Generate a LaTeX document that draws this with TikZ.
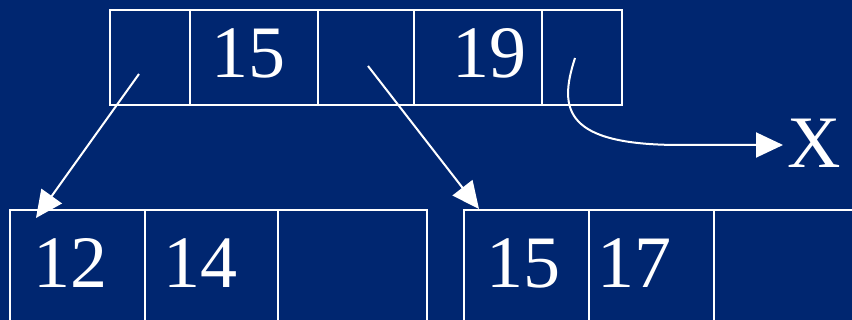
\documentclass[tikz,border=0pt]{standalone}
\usepackage{fontspec}
\setmainfont{Liberation Serif}
\usetikzlibrary{arrows.meta}
\definecolor{bgblue}{RGB}{0,38,112}
\tikzset{
  cell/.style={draw=white, line width=2pt, rectangle, inner sep=0pt},
  num/.style={text=white, anchor=base, inner sep=0pt, font=\fontsize{74}{80}\selectfont},
  ptr/.style={draw=white, line width=2pt, -{Triangle[length=27pt,width=25pt]}, fill=none},
}
\begin{document}
\begin{tikzpicture}[x=1pt,y=-1pt]
\fill[bgblue] (0,0) rectangle (852,320);
\useasboundingbox (0,0) rectangle (852,320);
\clip (0,0) rectangle (852,320);
% top node
\node[cell, minimum width=80, minimum height=95] (t1) at (150,57.5) {};
\node[cell, minimum width=128, minimum height=95] (t2) at (254,57.5) {};
\node[cell, minimum width=96, minimum height=95] (t3) at (366,57.5) {};
\node[cell, minimum width=128, minimum height=95] (t4) at (478,57.5) {};
\node[cell, minimum width=80, minimum height=95] (t5) at (582,57.5) {};
\node[num] (n15a) at (248,78) {15};
\node[num] (n19) at (489,78) {19};
% bottom left node
\node[cell, minimum width=135, minimum height=130] (l1) at (77.5,275) {};
\node[cell, minimum width=133, minimum height=130] (l2) at (211.5,275) {};
\node[cell, minimum width=149, minimum height=130] (l3) at (352.5,275) {};
\node[num] (n12) at (70,288) {12};
\node[num] (n14) at (200,288) {14};
% bottom right node
\node[cell, minimum width=125, minimum height=130] (r1) at (526.5,275) {};
\node[cell, minimum width=125, minimum height=130] (r2) at (651.5,275) {};
\node[cell, minimum width=170, minimum height=130] (r3) at (799,275) {};
\node[num] (n15b) at (523,288) {15};
\node[num] (n17) at (634,288) {17};
% X
\node[num] (x) at (814,168) {X};
% pointers
\coordinate (p1) at (139,74);
\coordinate (p2) at (368,66);
\coordinate (p3) at (575,58);
\coordinate (e1) at (36,218);
\coordinate (e2) at (479,209);
\coordinate (e3) at (783,145);
\draw[ptr] (p1) -- (e1);
\draw[ptr] (p2) -- (e2);
\draw[ptr] (p3) .. controls (558,110) and (565,145) .. (680,145) -- (e3);
\end{tikzpicture}
\end{document}
